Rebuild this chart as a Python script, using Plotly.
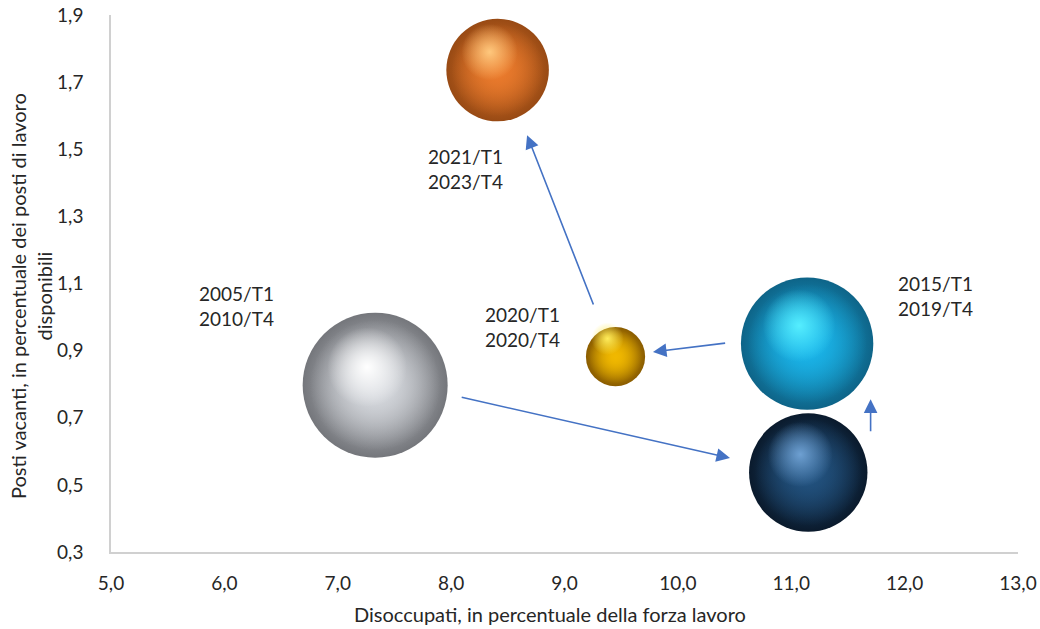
import plotly.graph_objects as go

# ---- data ----
periods = ["2005/T1<br>2010/T4", "", "2015/T1<br>2019/T4", "2020/T1<br>2020/T4", "2021/T1<br>2023/T4"]
unemployment = [7.33, 11.15, 11.14, 9.45, 8.41]
vacancies = [0.797, 0.537, 0.921, 0.882, 1.736]
quarters = [24, 16, 20, 4, 12]

body_colors = ["#d6d9de", "#22527f", "#1ab5ea", "#f0b800", "#ea7a2c"]
body_fade = ["rgba(214,217,222,0)", "rgba(34,82,127,0)", "rgba(26,181,234,0)", "rgba(240,184,0,0)", "rgba(234,122,44,0)"]
edge_colors = ["#74767b", "#0a1a2c", "#0e6488", "#8a5c00", "#984a14"]
high_colors = ["rgba(255,255,255,1)", "rgba(110,160,210,1)", "rgba(85,238,255,1)", "rgba(255,236,90,1)", "rgba(255,200,125,1)"]
high_fade = ["rgba(255,255,255,0)", "rgba(110,160,210,0)", "rgba(85,238,255,0)", "rgba(255,236,90,0)", "rgba(255,200,125,0)"]

label_shift = [(-139, 79), (0, 0), (128, 48), (-93, 30), (-32, -99)]

# arrows (tail -> head) in data units
arrows = [
    ((8.08, 0.762), (10.46, 0.580)),
    ((11.70, 0.655), (11.70, 0.755)),
    ((10.43, 0.923), (9.78, 0.896)),
    ((9.26, 1.033), (8.67, 1.542)),
]

x_ticks = [5, 6, 7, 8, 9, 10, 11, 12, 13]
y_ticks = [0.3, 0.5, 0.7, 0.9, 1.1, 1.3, 1.5, 1.7, 1.9]

FONT = "Lato"
TXT = "#262626"
TICKSZ = 19
TITLESZ = 20
sizeref = 2 * max(quarters) / 145 ** 2


def sphere_layer(i, factor, edge, center, xa="x", ya="y"):
    # plotly radial gradient: marker.color at the rim, gradient.color at the centre
    return go.Scatter(
        x=[unemployment[i]], y=[vacancies[i]], mode="markers", xaxis=xa, yaxis=ya,
        marker=dict(size=[quarters[i]], sizemode="area", sizeref=sizeref / factor ** 2,
                    color=edge, opacity=1, line=dict(width=0),
                    gradient=dict(type="radial", color=center)),
        hoverinfo="skip", showlegend=False, cliponaxis=False)


fig = go.Figure()
for i in range(len(quarters)):
    fig.add_trace(sphere_layer(i, 1.0, edge_colors[i], body_colors[i]))
    fig.add_trace(sphere_layer(i, 0.9, body_fade[i], body_colors[i]))
for i in range(len(quarters)):
    fig.add_trace(sphere_layer(i, 0.55, high_fade[i], high_colors[i], "x2", "y2"))

annotations = []
for i, t in enumerate(periods):
    if t:
        annotations.append(dict(x=unemployment[i], y=vacancies[i], xref="x", yref="y",
                                text=t, showarrow=False, xshift=label_shift[i][0],
                                yshift=label_shift[i][1],
                                font=dict(family=FONT, size=TICKSZ, color=TXT)))
for (x0, y0), (x1, y1) in arrows:
    annotations.append(dict(x=x1, y=y1, ax=x0, ay=y0, xref="x", yref="y", axref="x", ayref="y",
                            text="", showarrow=True, arrowhead=2, arrowsize=1.7,
                            arrowwidth=1.6, arrowcolor="#4472c4"))
annotations.append(dict(text="Disoccupati, in percentuale della forza lavoro", xref="paper", yref="paper",
                        x=0.484, y=-0.116, yanchor="middle", showarrow=False,
                        font=dict(family=FONT, size=TITLESZ, color=TXT)))
annotations.append(dict(text="Posti vacanti, in percentuale dei posti di lavoro<br>disponibili",
                        xref="paper", yref="paper", x=-0.088, y=0.477, textangle=-90,
                        xanchor="center", yanchor="middle",
                        showarrow=False, font=dict(family=FONT, size=TITLESZ, color=TXT)))

dx = 8 / 113.4
dy = 18 / 335.6
fig.update_layout(
    width=1040, height=629, margin=dict(l=111, r=22, t=15, b=77, autoexpand=False),
    paper_bgcolor="white", plot_bgcolor="white", separators=",.",
    font=dict(family=FONT, size=TICKSZ, color=TXT),
    xaxis=dict(range=[5, 13], tickvals=x_ticks, tickformat=".1f", showgrid=False, zeroline=False,
               showline=True, linecolor="#d0d0d0", linewidth=1.5, ticks="", ticklabelstandoff=13,
               automargin=False, tickfont=dict(family=FONT, size=TICKSZ, color=TXT)),
    yaxis=dict(range=[0.3, 1.9], tickvals=y_ticks, tickformat=".1f", showgrid=False, zeroline=False,
               showline=True, linecolor="#d0d0d0", linewidth=1.5, ticks="", ticklabelstandoff=22,
               automargin=False, tickfont=dict(family=FONT, size=TICKSZ, color=TXT)),
    xaxis2=dict(range=[5 + dx, 13 + dx], overlaying="x", visible=False, automargin=False),
    yaxis2=dict(range=[0.3 - dy, 1.9 - dy], overlaying="y", visible=False, automargin=False),
    annotations=annotations,
)
fig.write_html("out.html")
